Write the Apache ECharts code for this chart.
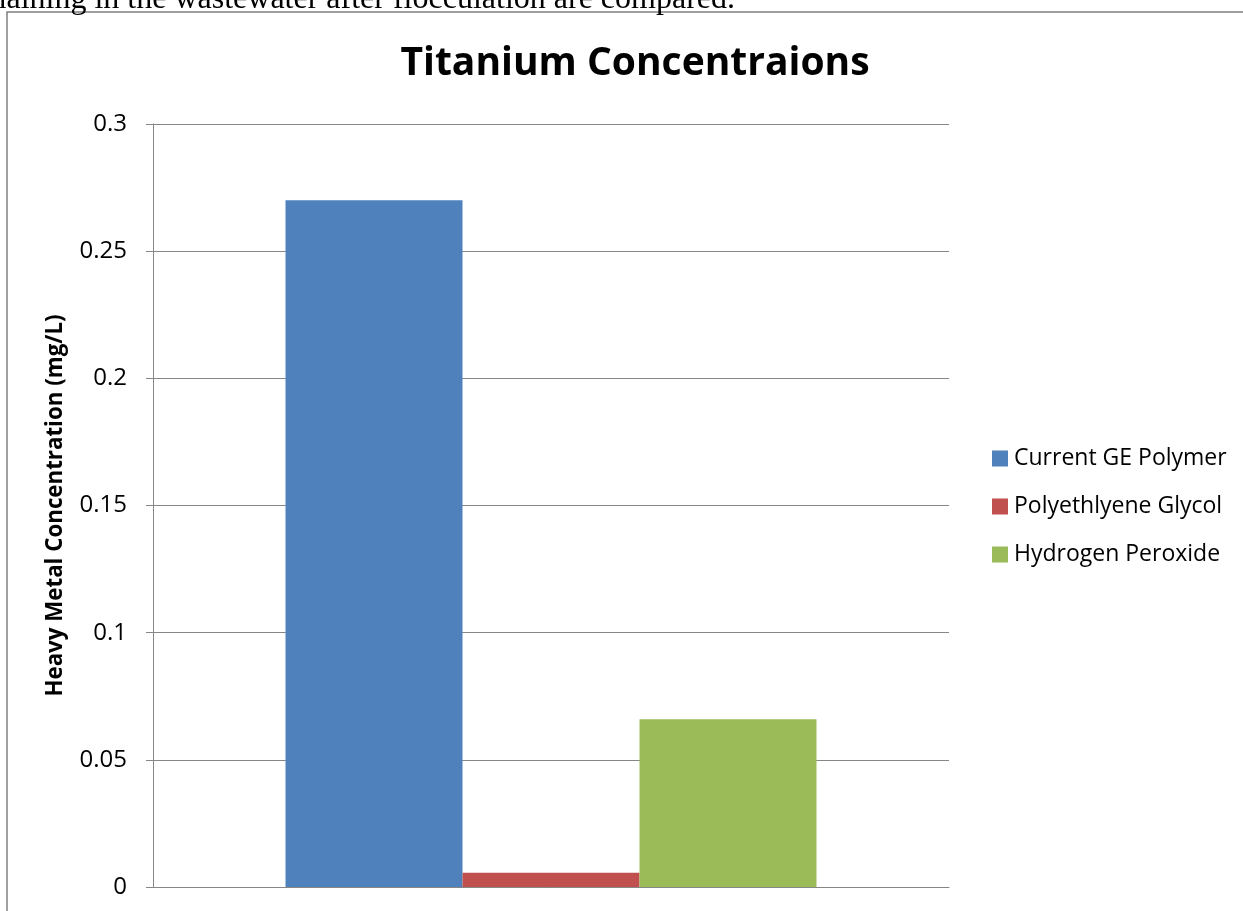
<!DOCTYPE html>
<html>
<head>
<meta charset="utf-8">
<script src="https://cdn.jsdelivr.net/npm/echarts@6/dist/echarts.min.js"></script>
<style>
  html, body { margin: 0; padding: 0; background: #fff; }
  #chart { width: 1243px; height: 911px; }
</style>
</head>
<body>
<div id="chart"></div>
<script>
// values
const categories = ['Titanium']
const seriesNames = ['Current GE Polymer', 'Polyethlyene Glycol', 'Hydrogen Peroxide']
const currentGE = [0.27]
const polyGlycol = [0.0056]
const peroxide = [0.066]
const yTicks = { min: 0, max: 0.3, interval: 0.05 }

const colors = ['#4F81BD', '#C0504D', '#9BBB59']
const font = '"Open Sans", Lato, sans-serif'
const grey = '#868686'

const chart = echarts.init(document.getElementById('chart'))

const option = {
  backgroundColor: '#fff',
  animation: false,
  color: colors,
  title: {
    text: 'Titanium Concentraions',
    left: 630,
    top: 39,
    textAlign: 'center',
    textStyle: {
      fontFamily: font,
      fontSize: 39,
      fontWeight: 'bold',
      color: '#000'
    }
  },
  legend: {
    orient: 'vertical',
    left: 992,
    top: 447,
    padding: 0,
    itemWidth: 16,
    itemHeight: 16,
    itemGap: 25,
    icon: 'rect',
    data: seriesNames,
    textStyle: {
      fontFamily: font,
      fontSize: 23,
      color: '#000',
      padding: [0, 0, 0, 1]
    }
  },
  grid: {
    left: 153,
    right: 294,
    top: 124,
    bottom: 24
  },
  xAxis: {
    type: 'category',
    data: categories,
    axisLine: { lineStyle: { color: grey, width: 1 } },
    axisTick: { show: false },
    axisLabel: { show: false }
  },
  yAxis: {
    type: 'value',
    min: yTicks.min,
    max: yTicks.max,
    interval: yTicks.interval,
    name: 'Heavy Metal Concentration (mg/L)',
    nameLocation: 'middle',
    nameGap: 86,
    nameTextStyle: {
      fontFamily: font,
      fontSize: 22.3,
      fontWeight: 'bold',
      color: '#000'
    },
    axisLine: { show: true, lineStyle: { color: grey, width: 1 } },
    axisTick: { show: true, inside: false, length: 7, lineStyle: { color: grey } },
    axisLabel: {
      margin: 26,
      fontFamily: font,
      fontSize: 24,
      color: '#000'
    },
    splitLine: { lineStyle: { color: grey, width: 1 } }
  },
  series: [
    { name: seriesNames[0], type: 'bar', data: currentGE, barWidth: 177, barGap: '0%' },
    { name: seriesNames[1], type: 'bar', data: polyGlycol, barWidth: 177, barGap: '0%' },
    { name: seriesNames[2], type: 'bar', data: peroxide, barWidth: 177, barGap: '0%' }
  ],
  graphic: [
    // frame of the chart object in the document
    {
      type: 'rect',
      shape: { x: 7, y: 12, width: 1400, height: 1000 },
      style: { fill: 'none', stroke: '#808080', lineWidth: 1.5 },
      silent: true
    },
    // the document line cut off above the chart
    {
      type: 'text',
      x: 735,
      y: 0,
      style: {
        text: 'remaining in the wastewater after flocculation are compared.',
        font: '32px "Liberation Serif", "Times New Roman", serif',
        fill: '#000',
        align: 'right',
        verticalAlign: 'middle'
      },
      silent: true
    }
  ]
}

chart.setOption(option)
</script>
</body>
</html>
